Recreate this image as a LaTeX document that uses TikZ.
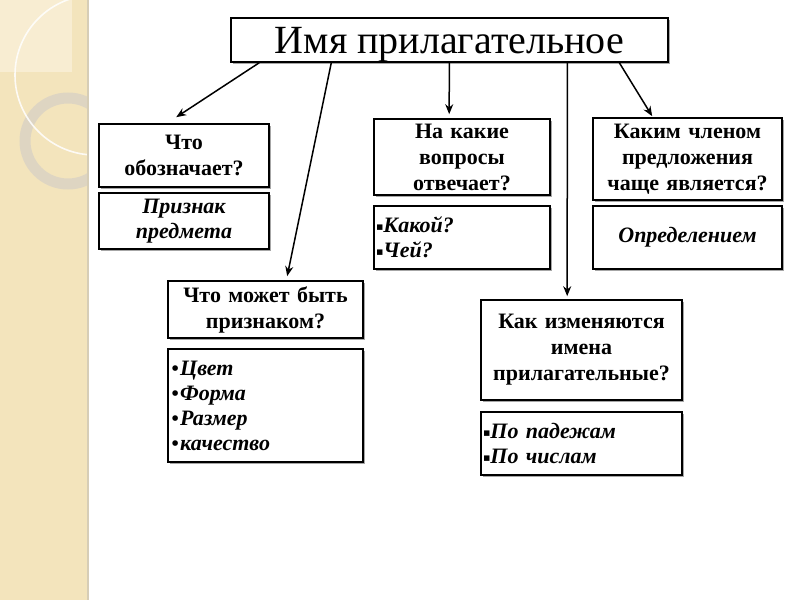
\documentclass[tikz,border=0pt]{standalone}
\usepackage{fontspec}
\setmainfont{Liberation Serif}
\newfontfamily\bulletfont{DejaVu Sans}
\usetikzlibrary{arrows.meta,shadows,calc}
\definecolor{stripe}{HTML}{F3E4BC}
\definecolor{stripelight}{HTML}{F8EDD2}
\definecolor{ringcol}{HTML}{DDD5C3}
\definecolor{edgecol}{HTML}{D6CDB6}
\tikzset{
  box/.style={draw=black, line width=1.6pt, fill=white, inner sep=1pt,
    drop shadow={shadow xshift=1.5pt, shadow yshift=-1.5pt, opacity=0.35, fill=black}},
  qbox/.style={box, align=center, font=\bfseries\fontsize{22}{26}\selectfont},
  abox/.style={box, align=center, font=\bfseries\itshape\fontsize{22}{25}\selectfont},
  lbox/.style={box, align=left, font=\bfseries\itshape\fontsize{22}{25}\selectfont},
  titlebox/.style={draw=black, line width=1.4pt, fill=white, inner sep=0pt,
    font=\fontsize{40}{42}\selectfont, text height=35pt, text depth=9pt,
    drop shadow={shadow xshift=1.5pt, shadow yshift=-1.5pt, opacity=0.35, fill=black}},
  arr/.style={line width=1.5pt, -{Stealth[length=10pt,width=8pt]}}
}
\newcommand{\sqb}{{\bulletfont\fontsize{11}{11}\selectfont\raisebox{2pt}{▪}}}
\newcommand{\rdb}{{\bulletfont\fontsize{16}{16}\selectfont\raisebox{0.5pt}{•}}}
\begin{document}
\begin{tikzpicture}[x=1pt,y=-1pt]
\useasboundingbox (0,0) rectangle (800,600);
\fill[white] (0,0) rectangle (800,600);
% left decorative stripe
\fill[stripe] (0,0) rectangle (88,600);
\begin{scope}
  \clip (0,0) rectangle (88,600);
  \fill[stripelight] (0,0) rectangle (72,72);
  \draw[ringcol, line width=11pt, opacity=0.95] (68,141) circle[radius=43];
  \draw[white, line width=1.6pt, opacity=0.85] (95,75) circle[radius=80];
\end{scope}
\draw[edgecol, line width=1.5pt] (88,0) -- (88,600);

% title
\node[titlebox, minimum width=437, minimum height=44] (title) at (449.5,40) {Имя прилагательное};

% question / answer boxes
\node[qbox, minimum width=170, minimum height=63, text width=166] (q1) at (184,155.5) {Что\\обозначает?};
\node[abox, minimum width=170, minimum height=56, text width=166] (a1) at (184,221) {Признак\\предмета};

\node[qbox, minimum width=195, minimum height=57, text width=191] (q2) at (265.5,309.5) {Что может быть\\признаком?};
\node[lbox, minimum width=195, minimum height=113, text width=191] (a2) at (265.5,405.5) {\rdb Цвет\\\rdb Форма\\\rdb Размер\\\rdb качество};

\node[qbox, minimum width=176, minimum height=76, text width=172] (q3) at (462,157) {На какие\\вопросы\\отвечает?};
\node[lbox, minimum width=176, minimum height=63, text width=172] (a3) at (462,237.5) {\sqb Какой?\\\sqb Чей?};

\node[qbox, minimum width=189, minimum height=82, text width=185] (q4) at (687.5,159) {Каким членом\\предложения\\чаще является?};
\node[abox, minimum width=189, minimum height=63, text width=185] (a4) at (687.5,237.5) {Определением};

\node[qbox, minimum width=201, minimum height=100, text width=197] (q5) at (581.5,350) {Как изменяются\\имена\\прилагательные?};
\node[lbox, minimum width=201, minimum height=63, text width=197] (a5) at (581.5,443.5) {\sqb По падежам\\\sqb По числам};

% connector end points
\coordinate (s1) at ($(title.south west)+(29,0)$);
\coordinate (s2) at ($(title.south west)+(101,0)$);
\coordinate (s3) at ($(title.south west)+(219,0)$);
\coordinate (s4) at ($(title.south west)+(337,0)$);
\coordinate (s5) at ($(title.south west)+(389,0)$);
\coordinate (e1) at ($(q1.north west)+(78,-6)$);
\coordinate (e2) at ($(q2.north west)+(120,-4)$);
\coordinate (e3) at ($(q3.north west)+(76,-4)$);
\coordinate (e4) at ($(q5.north west)+(87,-3)$);
\coordinate (e5) at ($(q4.north west)+(60,-1)$);

\draw[arr] (s1) -- (e1);
\draw[arr] (s2) -- (e2);
\draw[arr] (s3) -- (e3);
\draw[arr] (s4) -- (e4);
\draw[arr] (s5) -- (e5);
\end{tikzpicture}
\end{document}
